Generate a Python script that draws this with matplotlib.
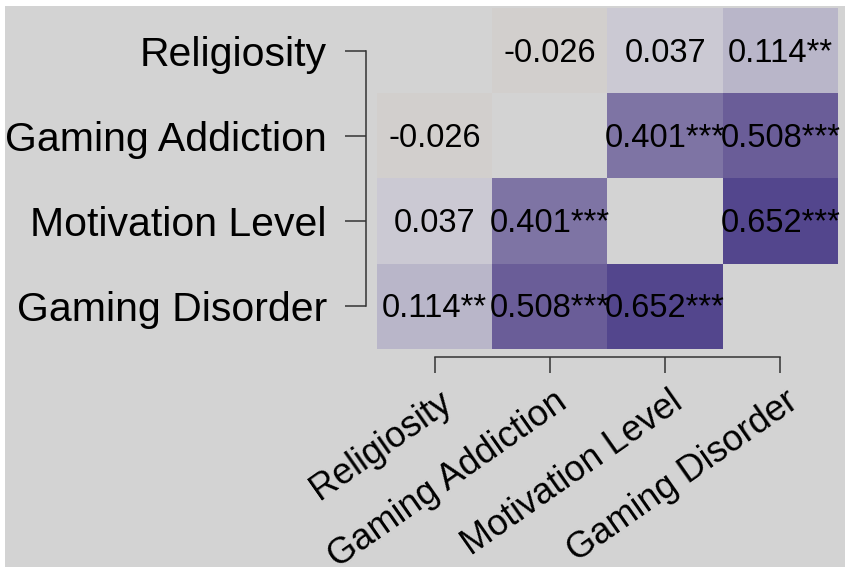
import numpy as np
import matplotlib
matplotlib.use("Agg")
import matplotlib.pyplot as plt
from matplotlib.colors import LinearSegmentedColormap, Normalize
from matplotlib.patches import Rectangle
from matplotlib.transforms import ScaledTranslation

plt.rcParams['font.family'] = ['Liberation Sans', 'DejaVu Sans']

# variables and correlations
variables = ["Religiosity", "Gaming Addiction", "Motivation Level", "Gaming Disorder"]
r = np.array([
    [np.nan, -0.026, 0.037, 0.114],
    [-0.026, np.nan, 0.401, 0.508],
    [0.037, 0.401, np.nan, 0.652],
    [0.114, 0.508, 0.652, np.nan],
])
stars = [
    ["", "", "", "**"],
    ["", "", "***", "***"],
    ["", "***", "", "***"],
    ["**", "***", "***", ""],
]

bg = "#d3d3d3"
axcol = "#333333"

# gray in the middle, purple for positive, orange for negative
cmap = LinearSegmentedColormap.from_list(
    "pu_gray",
    [(0.0, "#b35806"), (0.5, "#d3d3d3"), (0.52, "#cac8d3"), (0.557, "#b9b6c9"),
     (0.70, "#7f75a5"), (0.754, "#6b5e99"), (0.826, "#54478e"), (1.0, "#2d004b")])
norm = Normalize(vmin=-1, vmax=1)

fig = plt.figure(figsize=(8.51, 5.73), dpi=100)
fig.patch.set_facecolor("white")
fig.patches.append(Rectangle((5 / 851, 6 / 573), 840 / 851, 561 / 573,
                             transform=fig.transFigure, facecolor=bg,
                             edgecolor="none", zorder=-10))

ax = fig.add_axes([377 / 851, 1 - 349 / 573, 461 / 851, 341 / 573])
ax.set_facecolor("none")

ax.imshow(np.ma.masked_invalid(r), cmap=cmap, norm=norm, aspect="auto",
          interpolation="nearest")

n = len(variables)
for i in range(n):
    for j in range(n):
        if not np.isnan(r[i, j]):
            ax.text(j, i + 0.03, f"{r[i, j]:.3f}{stars[i][j]}", ha="center", va="center",
                    fontsize=23.5, color="black")

ax.set_xlim(-0.5, n - 0.5)
ax.set_ylim(n - 0.5, -0.5)

for s in ["top", "right"]:
    ax.spines[s].set_visible(False)
ax.spines["left"].set_position(("outward", 8))
ax.spines["bottom"].set_position(("outward", 6))
ax.spines["left"].set_bounds(0, n - 1)
ax.spines["bottom"].set_bounds(0, n - 1)
for s in ["left", "bottom"]:
    ax.spines[s].set_color(axcol)
    ax.spines[s].set_linewidth(1.1)

ax.set_xticks(range(n))
ax.set_yticks(range(n))
ax.set_yticklabels(variables, fontsize=29.5)
ax.set_xticklabels(variables, fontsize=26, rotation=35, ha="right", va="center",
                   rotation_mode="anchor")
ax.tick_params(axis="y", length=15, width=1.1, color=axcol, pad=13)
ax.tick_params(axis="x", length=11.5, width=1.1, color=axcol, pad=18)

# nudge the slanted labels a little to the right, as in the original
for lab in ax.get_xticklabels():
    lab.set_transform(lab.get_transform() + ScaledTranslation(0.14, 0, fig.dpi_scale_trans))

fig.savefig("out.png", dpi=100, facecolor="white")
